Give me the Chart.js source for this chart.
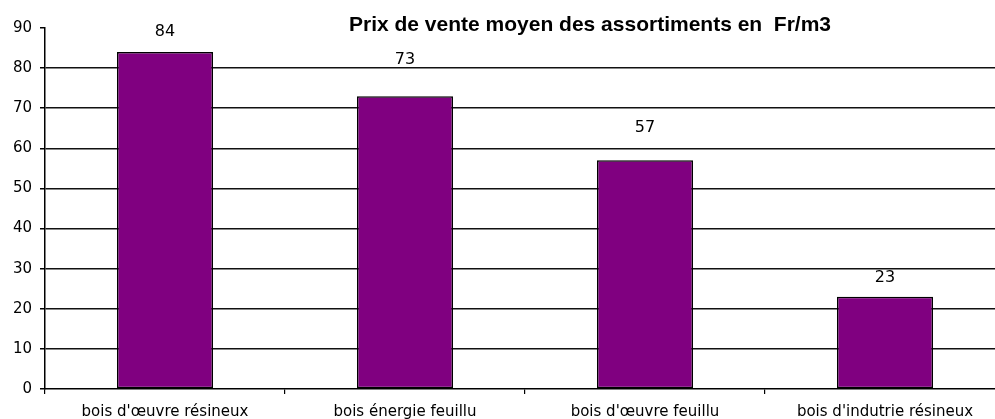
<!DOCTYPE html>
<html>
<head>
  <title>Prix de vente moyen des assortiments</title>
  <script src="https://cdn.jsdelivr.net/npm/chart.js"></script>
  <style>
    html, body { margin: 0; padding: 0; overflow: hidden; background: #fff; }
  </style>
</head>
<body>
  <canvas id="chart" width="1010" height="419"></canvas>
  <script>
    const titre = "Prix de vente moyen des assortiments en  Fr/m3";
    const assortiments = ["bois d'œuvre résineux", "bois énergie feuillu", "bois d'œuvre feuillu", "bois d'indutrie résineux"];
    const prix = [84, 73, 57, 23];
    const yTicks = [0, 10, 20, 30, 40, 50, 60, 70, 80, 90];

    // titre dessiné à la main, il est décalé vers la droite comme dans Excel
    const titlePlugin = {
      id: "titre",
      afterDraw(chart, args, opts) {
        const ctx = chart.ctx;
        ctx.save();
        ctx.font = "bold 21px 'Liberation Sans', Arial, sans-serif";
        ctx.fillStyle = "#000";
        ctx.textAlign = "center";
        ctx.textBaseline = "middle";
        ctx.fillText(titre, opts.x, opts.y);
        ctx.restore();
      }
    };

    // étiquettes de valeurs au-dessus des barres
    const valuePlugin = {
      id: "valeurs",
      afterDatasetsDraw(chart, args, opts) {
        const ctx = chart.ctx;
        const meta = chart.getDatasetMeta(0);
        ctx.save();
        ctx.font = "16px 'DejaVu Sans', sans-serif";
        ctx.fillStyle = "#000";
        ctx.textAlign = "center";
        ctx.textBaseline = "middle";
        meta.data.forEach((bar, i) => {
          ctx.fillText(String(prix[i]), bar.x, bar.y - opts.offsets[i]);
        });
        ctx.restore();
      }
    };

    new Chart(document.getElementById("chart"), {
      type: "bar",
      data: {
        labels: assortiments,
        datasets: [{
          data: prix,
          backgroundColor: "#800080",
          borderColor: "#000",
          borderWidth: 1.5,
          borderSkipped: false,
          categoryPercentage: 1,
          barPercentage: 0.4
        }]
      },
      plugins: [titlePlugin, valuePlugin],
      options: {
        responsive: false,
        animation: false,
        layout: { padding: { top: 28, left: 0, right: 5, bottom: 0 } },
        plugins: {
          legend: { display: false },
          tooltip: { enabled: false },
          titre: { x: 590, y: 25 },
          valeurs: { offsets: [20, 36, 33, 19] }
        },
        scales: {
          x: {
            grid: {
              drawOnChartArea: false,
              color: "#000",
              tickLength: 5,
              lineWidth: 1.2
            },
            border: { color: "#000", width: 1.5 },
            ticks: {
              color: "#000",
              padding: 9,
              maxRotation: 0,
              autoSkip: false,
              font: { family: "'DejaVu Sans', sans-serif", size: 15 }
            },
            afterFit(scale) { scale.height = 30; }
          },
          y: {
            min: 0,
            max: 90,
            afterBuildTicks(scale) {
              scale.ticks = yTicks.map(v => ({ value: v }));
            },
            grid: {
              color: ctx => (ctx.tick && ctx.tick.value > 0 && ctx.tick.value < 90) ? "#111" : "rgba(0,0,0,0)",
              tickColor: "#000",
              tickLength: 5,
              lineWidth: 1.5
            },
            border: { color: "#000", width: 1.5 },
            ticks: {
              color: "#000",
              padding: 8,
              font: { family: "'DejaVu Sans', sans-serif", size: 15 }
            },
            afterFit(scale) { scale.width = 45; }
          }
        }
      }
    });
  </script>
</body>
</html>
